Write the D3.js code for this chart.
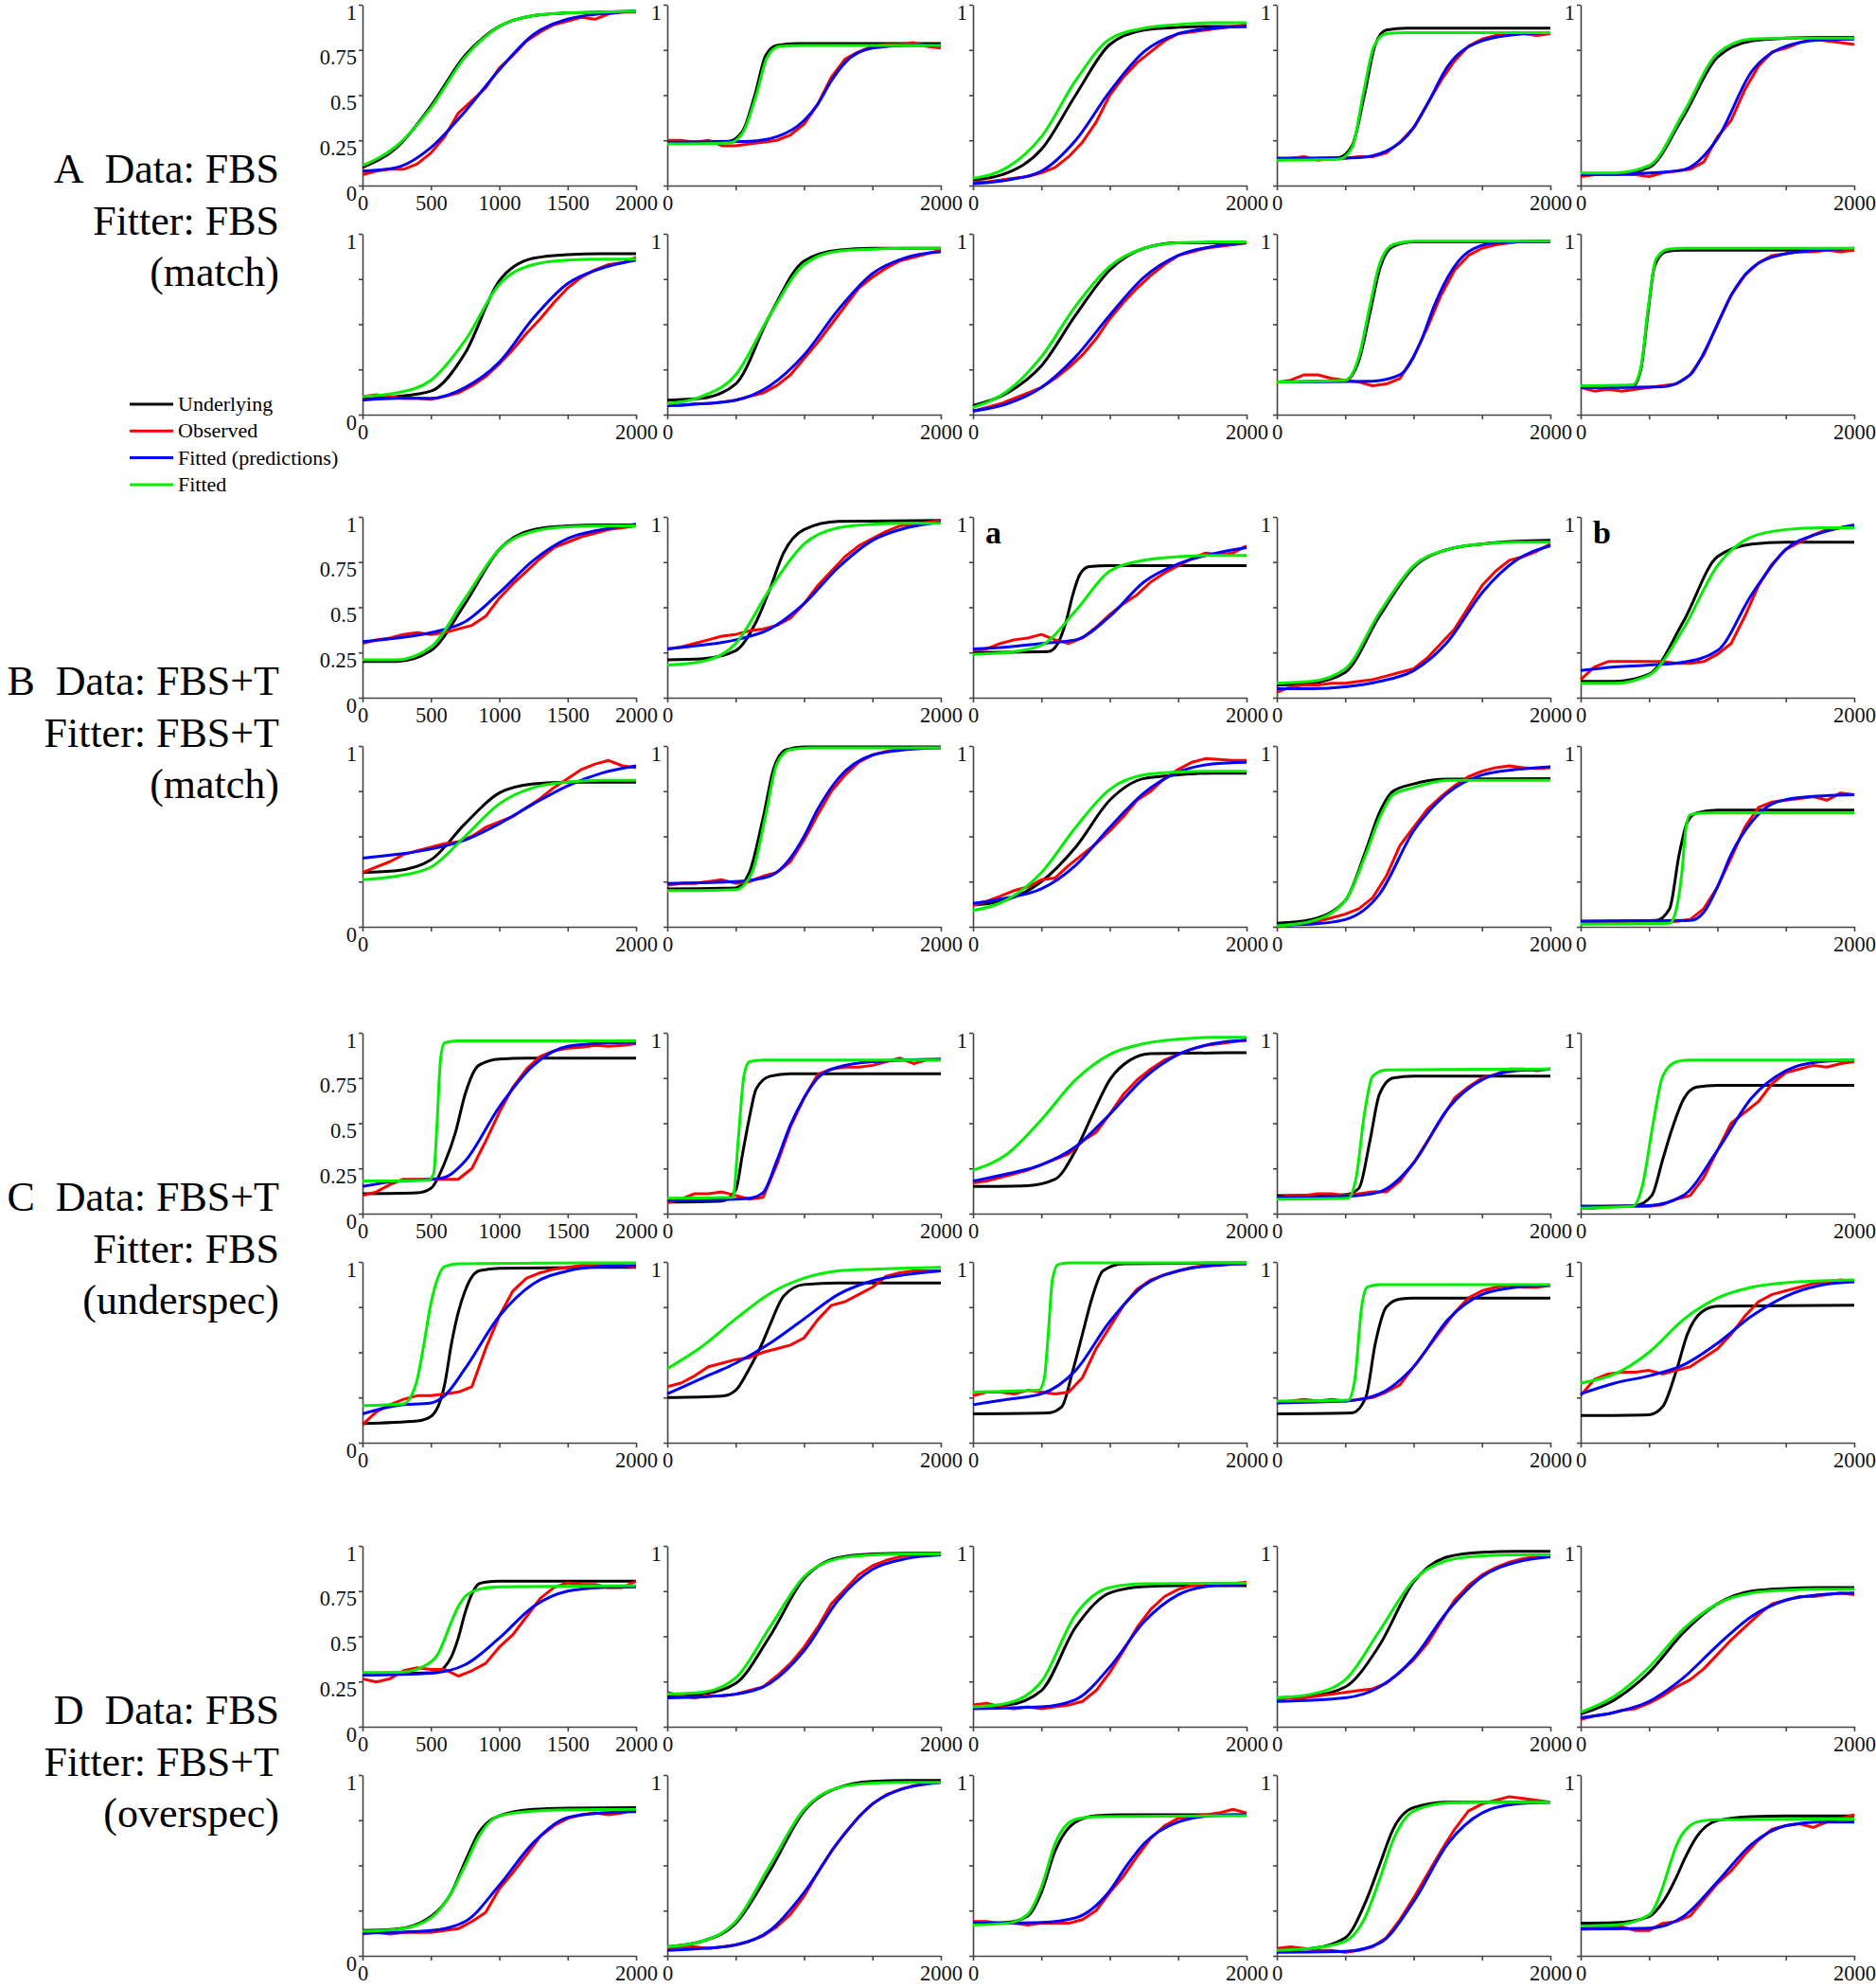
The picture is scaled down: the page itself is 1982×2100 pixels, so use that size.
<!DOCTYPE html>
<html><head><meta charset="utf-8">
<script src="https://cdn.jsdelivr.net/npm/d3@7"></script>
<style>body{margin:0;background:#fff}svg text{font-family:"Liberation Serif","Times New Roman",serif}</style>
</head><body><svg id="c" width="1982" height="2100"></svg>
<script>
// ---------- data ----------
const redX = [0,100,200,300,400,500,600,700,800,900,1000,1100,1200,1300,1400,1500,1600,1700,1800,1900,2000];
const xTicksFull = [0,500,1000,1500,2000];
const xTicksShort = [0,2000];
const yTicks = [0,0.25,0.5,0.75,1];
const yTickLabels = ["0","0.25","0.5","0.75","1"];
const seriesNames = ["Underlying","Observed","Fitted (predictions)","Fitted"];
const seriesColors = ["#000000","#ff0000","#0000ff","#00ee00"];
const groupLabels = [
  ["A\u00a0 Data: FBS","Fitter: FBS","(match)"],
  ["B\u00a0 Data: FBS+T","Fitter: FBS+T","(match)"],
  ["C\u00a0 Data: FBS+T","Fitter: FBS","(underspec)"],
  ["D\u00a0 Data: FBS","Fitter: FBS+T","(overspec)"]
];
const panelTags = [{row:2,col:2,text:"a"},{row:2,col:4,text:"b"}];

// Row A1
const black_A1 = [
 [[0,.10],[250,.21],[500,.44],[750,.72],[1000,.88],[1250,.94],[1500,.955],[1750,.96],[2000,.965]],
 [[0,.24],[450,.245],[550,.3],[640,.5],[720,.72],[800,.775],[950,.785],[2000,.785]],
 [[0,.03],[250,.07],[500,.2],[750,.5],[1000,.78],[1250,.86],[1500,.875],[1750,.88],[2000,.88]],
 [[0,.15],[450,.155],[550,.22],[640,.5],[720,.78],[800,.86],[950,.87],[2000,.87]],
 [[0,.06],[250,.06],[500,.1],[750,.38],[1000,.71],[1250,.8],[1500,.815],[1750,.82],[2000,.82]]];
const green_A1 = [
 [[0,.11],[250,.22],[500,.43],[750,.71],[1000,.88],[1250,.94],[1500,.955],[1750,.96],[2000,.965]],
 [[0,.23],[450,.235],[550,.29],[650,.5],[730,.71],[820,.77],[1000,.775],[2000,.775]],
 [[0,.04],[250,.1],[500,.27],[750,.58],[1000,.81],[1250,.87],[1500,.89],[1750,.9],[2000,.9]],
 [[0,.14],[450,.145],[550,.21],[630,.5],[710,.77],[800,.84],[950,.845],[2000,.845]],
 [[0,.07],[250,.07],[500,.11],[750,.4],[1000,.73],[1250,.81],[1500,.815],[1750,.815],[2000,.815]]];
const blue_A1 = [
 [[0,.08],[250,.1],[500,.21],[750,.41],[1000,.64],[1250,.835],[1500,.92],[1750,.95],[2000,.965]],
 [[0,.24],[600,.245],[800,.27],[1000,.36],[1100,.45],[1200,.58],[1300,.68],[1500,.76],[1750,.775],[2000,.775]],
 [[0,.01],[250,.03],[500,.08],[750,.25],[1000,.52],[1250,.74],[1500,.84],[1750,.87],[2000,.88]],
 [[0,.15],[600,.155],[800,.19],[1000,.32],[1100,.45],[1250,.66],[1500,.8],[1750,.835],[2000,.845]],
 [[0,.06],[500,.07],[750,.087],[1000,.26],[1250,.63],[1500,.77],[1750,.805],[2000,.81]]];
const red_A1 = [
 [.06,.08,.09,.09,.12,.18,.27,.40,.47,.54,.65,.72,.80,.85,.89,.91,.93,.92,.95,.96,.96],
 [.25,.25,.24,.25,.22,.22,.23,.24,.25,.28,.34,.45,.60,.70,.74,.77,.78,.78,.79,.77,.76],
 [.02,.02,.03,.04,.05,.07,.10,.16,.24,.35,.50,.60,.68,.74,.80,.84,.85,.86,.87,.88,.89],
 [.14,.15,.16,.14,.15,.15,.16,.16,.18,.24,.32,.45,.58,.69,.77,.81,.83,.84,.84,.83,.84],
 [.05,.06,.06,.06,.06,.05,.07,.08,.09,.13,.27,.36,.53,.66,.74,.76,.79,.81,.80,.79,.78]];

// Row A2
const black_A2 = [
 [[0,.09],[250,.1],[500,.13],[750,.34],[1000,.74],[1250,.865],[1500,.885],[1750,.89],[2000,.89]],
 [[0,.08],[250,.09],[500,.17],[750,.55],[1000,.85],[1250,.91],[1500,.92],[1750,.92],[2000,.92]],
 [[0,.05],[250,.12],[500,.27],[750,.55],[1000,.8],[1250,.92],[1500,.95],[1750,.95],[2000,.95]],
 [[0,.18],[500,.19],[600,.3],[680,.56],[750,.8],[850,.93],[1000,.955],[2000,.955]],
 [[0,.15],[380,.155],[440,.25],[490,.55],[540,.82],[620,.9],[720,.91],[2000,.91]]];
const green_A2 = [
 [[0,.1],[250,.12],[500,.19],[750,.41],[1000,.72],[1250,.83],[1500,.855],[1750,.86],[2000,.86]],
 [[0,.06],[250,.1],[500,.22],[750,.55],[1000,.83],[1250,.905],[1500,.915],[1750,.92],[2000,.92]],
 [[0,.04],[250,.13],[500,.32],[750,.6],[1000,.82],[1250,.92],[1500,.95],[1750,.955],[2000,.955]],
 [[0,.18],[500,.19],[600,.32],[680,.6],[750,.83],[850,.94],[1000,.96],[2000,.96]],
 [[0,.16],[380,.165],[440,.26],[495,.6],[550,.86],[640,.915],[770,.92],[2000,.92]]];
const blue_A2 = [
 [[0,.08],[250,.09],[500,.09],[750,.15],[1000,.29],[1250,.535],[1500,.725],[1750,.81],[2000,.855]],
 [[0,.05],[250,.06],[500,.08],[750,.16],[1000,.33],[1250,.58],[1500,.78],[1750,.87],[2000,.9]],
 [[0,.02],[250,.06],[500,.15],[750,.32],[1000,.55],[1250,.76],[1500,.88],[1750,.93],[2000,.95]],
 [[0,.18],[700,.185],[900,.22],[1050,.4],[1150,.6],[1250,.76],[1400,.9],[1600,.95],[2000,.96]],
 [[0,.15],[600,.155],[800,.22],[900,.34],[1000,.5],[1100,.66],[1250,.81],[1500,.89],[1750,.91],[2000,.92]]];
const red_A2 = [
 [.10,.11,.10,.09,.09,.085,.10,.12,.16,.21,.28,.36,.45,.53,.62,.70,.76,.80,.83,.84,.87],
 [.05,.05,.06,.06,.07,.08,.10,.12,.16,.22,.31,.40,.50,.60,.70,.76,.81,.85,.87,.89,.91],
 [.02,.04,.06,.09,.12,.15,.20,.26,.33,.42,.53,.62,.70,.77,.83,.88,.90,.92,.93,.94,.95],
 [.18,.19,.22,.22,.20,.19,.18,.16,.17,.20,.32,.48,.66,.80,.88,.92,.94,.95,.96,.96,.96],
 [.15,.13,.14,.13,.14,.15,.16,.17,.22,.33,.50,.66,.77,.84,.88,.89,.90,.90,.91,.90,.91]];

// Row B1
const black_B1 = [
 [[0,.2],[250,.2],[500,.26],[750,.52],[1000,.82],[1250,.93],[1500,.95],[1750,.955],[2000,.955]],
 [[0,.21],[250,.215],[500,.26],[650,.42],[750,.6],[850,.8],[1000,.93],[1250,.975],[2000,.98]],
 [[0,.25],[550,.255],[620,.3],[680,.42],[730,.57],[780,.68],[850,.725],[1000,.73],[2000,.73]],
 [[0,.07],[250,.08],[500,.14],[750,.45],[1000,.72],[1250,.82],[1500,.85],[1750,.865],[2000,.87]],
 [[0,.09],[250,.09],[500,.13],[750,.42],[1000,.78],[1250,.85],[1500,.86],[1750,.86],[2000,.86]]];
const green_B1 = [
 [[0,.21],[250,.21],[500,.28],[750,.55],[1000,.82],[1250,.92],[1500,.945],[1750,.95],[2000,.95]],
 [[0,.18],[250,.2],[500,.3],[750,.6],[1000,.85],[1250,.94],[1500,.96],[1750,.965],[2000,.965]],
 [[0,.24],[250,.25],[500,.29],[750,.48],[1000,.7],[1250,.76],[1500,.78],[1750,.787],[2000,.787]],
 [[0,.08],[250,.09],[500,.16],[750,.47],[1000,.73],[1250,.82],[1500,.85],[1750,.86],[2000,.86]],
 [[0,.08],[250,.08],[500,.125],[750,.38],[1000,.73],[1250,.89],[1500,.93],[1750,.94],[2000,.94]]];
const blue_B1 = [
 [[0,.31],[250,.33],[500,.36],[750,.42],[1000,.58],[1250,.76],[1500,.88],[1750,.93],[2000,.96]],
 [[0,.27],[250,.29],[500,.32],[750,.38],[1000,.52],[1250,.72],[1500,.87],[1750,.94],[2000,.97]],
 [[0,.27],[250,.28],[500,.3],[750,.32],[1000,.45],[1250,.64],[1500,.74],[1750,.795],[2000,.83]],
 [[0,.05],[250,.05],[500,.06],[750,.09],[1000,.15],[1250,.31],[1500,.58],[1750,.76],[2000,.84]],
 [[0,.15],[250,.17],[500,.18],[750,.196],[1000,.26],[1250,.57],[1500,.82],[1750,.91],[2000,.956]]];
const red_B1 = [
 [.30,.32,.33,.35,.36,.35,.36,.38,.40,.45,.55,.63,.70,.77,.83,.86,.89,.91,.93,.94,.95],
 [.27,.28,.30,.32,.34,.35,.37,.38,.40,.44,.52,.62,.70,.78,.84,.88,.92,.95,.96,.97,.98],
 [.26,.27,.30,.32,.33,.35,.32,.30,.33,.39,.46,.52,.57,.64,.69,.73,.77,.80,.79,.80,.84],
 [.03,.06,.07,.07,.08,.08,.09,.10,.12,.14,.16,.22,.30,.38,.50,.62,.70,.76,.78,.81,.85],
 [.10,.17,.20,.20,.20,.20,.20,.19,.19,.20,.24,.30,.45,.62,.74,.82,.86,.90,.93,.94,.95]];

// Row B2
const black_B2 = [
 [[0,.3],[250,.31],[500,.37],[750,.57],[1000,.74],[1250,.79],[1500,.8],[1750,.8],[2000,.8]],
 [[0,.21],[500,.215],[600,.3],[700,.6],[780,.88],[870,.98],[1000,.995],[2000,.995]],
 [[0,.12],[250,.15],[500,.25],[750,.44],[1000,.7],[1250,.82],[1500,.84],[1750,.85],[2000,.85]],
 [[0,.02],[250,.04],[500,.145],[650,.42],[750,.63],[850,.75],[1000,.79],[1250,.817],[2000,.82]],
 [[0,.03],[550,.035],[650,.1],[720,.4],[780,.58],[850,.63],[1000,.645],[2000,.645]]];
const green_B2 = [
 [[0,.26],[250,.28],[500,.33],[750,.5],[1000,.68],[1250,.77],[1500,.8],[1750,.81],[2000,.81]],
 [[0,.2],[500,.205],[620,.3],[720,.62],[800,.9],[900,.98],[1050,.99],[2000,.99]],
 [[0,.09],[250,.15],[500,.3],[750,.55],[1000,.76],[1250,.84],[1500,.856],[1750,.86],[2000,.86]],
 [[0,.005],[250,.03],[500,.145],[650,.4],[750,.6],[850,.73],[1000,.77],[1250,.81],[2000,.81]],
 [[0,.015],[650,.02],[700,.1],[740,.3],[770,.55],[800,.62],[900,.63],[2000,.63]]];
const blue_B2 = [
 [[0,.38],[250,.4],[500,.43],[750,.48],[1000,.57],[1250,.68],[1500,.78],[1750,.85],[2000,.89]],
 [[0,.24],[500,.25],[750,.28],[900,.38],[1000,.5],[1100,.65],[1250,.82],[1500,.95],[1750,.98],[2000,.99]],
 [[0,.13],[250,.16],[500,.21],[750,.34],[1000,.55],[1250,.74],[1500,.855],[1750,.9],[2000,.91]],
 [[0,.01],[250,.015],[500,.04],[750,.18],[1000,.53],[1250,.74],[1500,.84],[1750,.87],[2000,.885]],
 [[0,.03],[800,.035],[900,.08],[1000,.22],[1100,.4],[1250,.58],[1400,.68],[1600,.715],[2000,.73]]];
const red_B2 = [
 [.30,.33,.36,.40,.42,.44,.46,.47,.50,.55,.58,.61,.66,.71,.77,.82,.87,.90,.92,.89,.88],
 [.23,.24,.24,.25,.26,.24,.25,.28,.30,.36,.48,.62,.75,.84,.91,.95,.97,.98,.99,.99,.99],
 [.12,.14,.17,.20,.22,.26,.27,.34,.40,.46,.53,.61,.70,.75,.82,.87,.91,.93,.925,.92,.92],
 [.00,.01,.02,.03,.05,.07,.10,.16,.28,.45,.55,.65,.72,.78,.83,.86,.88,.89,.88,.875,.88],
 [.03,.03,.03,.03,.03,.03,.03,.03,.04,.10,.22,.38,.55,.66,.69,.70,.71,.72,.70,.74,.73]];

// Row C1
const black_C1 = [
 [[0,.11],[400,.115],[500,.14],[600,.28],[680,.45],[750,.66],[850,.82],[1000,.855],[1200,.86],[2000,.86]],
 [[0,.064],[400,.07],[500,.13],[550,.33],[600,.53],[650,.69],[750,.76],[900,.774],[2000,.774]],
 [[0,.15],[400,.155],[600,.19],[750,.35],[875,.55],[1000,.74],[1150,.85],[1300,.885],[2000,.89]],
 [[0,.1],[500,.105],[600,.14],[680,.4],[750,.66],[850,.75],[1000,.76],[2000,.76]],
 [[0,.04],[400,.045],[520,.1],[600,.3],[660,.45],[750,.63],[850,.7],[1000,.71],[2000,.71]]];
const green_C1 = [
 [[0,.18],[480,.185],[520,.22],[545,.5],[570,.85],[600,.945],[700,.955],[2000,.955]],
 [[0,.085],[480,.09],[520,.42],[560,.76],[600,.84],[700,.85],[2000,.85]],
 [[0,.24],[250,.33],[500,.52],[750,.74],[1000,.88],[1250,.94],[1500,.965],[1750,.975],[2000,.975]],
 [[0,.08],[520,.085],[580,.2],[640,.55],[700,.76],[800,.795],[2000,.8]],
 [[0,.03],[380,.04],[450,.15],[530,.5],[600,.76],[700,.84],[800,.85],[2000,.85]]];
const blue_C1 = [
 [[0,.15],[250,.18],[500,.19],[600,.2],[750,.29],[1000,.59],[1250,.82],[1500,.925],[1750,.943],[2000,.948]],
 [[0,.073],[500,.08],[600,.085],[700,.116],[800,.29],[900,.49],[1000,.64],[1100,.75],[1250,.81],[1500,.84],[2000,.855]],
 [[0,.18],[250,.22],[500,.27],[750,.37],[1000,.55],[1250,.75],[1500,.88],[1750,.94],[2000,.96]],
 [[0,.09],[500,.095],[750,.12],[1000,.28],[1250,.58],[1500,.74],[1750,.79],[2000,.8]],
 [[0,.04],[500,.045],[750,.1],[1000,.35],[1250,.64],[1500,.79],[1750,.84],[2000,.85]]];
const red_C1 = [
 [.10,.12,.16,.19,.19,.19,.19,.19,.25,.40,.56,.70,.80,.87,.90,.915,.92,.93,.925,.93,.94],
 [.06,.08,.11,.11,.12,.10,.08,.09,.27,.48,.64,.77,.80,.81,.81,.82,.84,.86,.83,.85,.85],
 [.17,.18,.20,.22,.24,.27,.30,.33,.40,.45,.55,.66,.74,.80,.85,.88,.91,.93,.94,.95,.96],
 [.09,.10,.10,.11,.11,.10,.11,.12,.12,.18,.28,.40,.52,.64,.70,.75,.77,.80,.80,.79,.80],
 [.03,.03,.04,.04,.04,.04,.05,.08,.10,.20,.35,.50,.56,.62,.72,.78,.80,.82,.81,.83,.84]];

// Row C2
const black_C2 = [
 [[0,.106],[400,.12],[500,.145],[600,.32],[650,.546],[700,.72],[750,.84],[850,.95],[1000,.965],[2000,.97]],
 [[0,.25],[400,.258],[500,.29],[600,.41],[700,.56],[750,.65],[850,.81],[1000,.875],[1250,.883],[2000,.883]],
 [[0,.16],[550,.165],[650,.2],[730,.4],[800,.6],[870,.8],[950,.95],[1100,.99],[2000,.995]],
 [[0,.16],[550,.165],[650,.25],[720,.55],[800,.75],[900,.795],[1000,.8],[2000,.8]],
 [[0,.15],[500,.155],[600,.2],[700,.4],[780,.6],[880,.72],[1000,.755],[2000,.76]]];
const green_C2 = [
 [[0,.206],[300,.215],[350,.25],[400,.35],[450,.55],[500,.77],[550,.91],[600,.975],[700,.99],[2000,.995]],
 [[0,.41],[250,.53],[500,.685],[750,.825],[1000,.91],[1250,.95],[1500,.96],[2000,.97]],
 [[0,.28],[480,.29],[520,.35],[550,.6],[580,.9],[620,.985],[700,.995],[2000,.995]],
 [[0,.23],[520,.235],[570,.35],[620,.75],[660,.86],[750,.875],[2000,.875]],
 [[0,.33],[250,.38],[500,.5],[750,.68],[1000,.8],[1250,.86],[1500,.885],[1750,.895],[2000,.9]]];
const blue_C2 = [
 [[0,.16],[250,.206],[500,.22],[600,.26],[750,.41],[1000,.7],[1250,.88],[1500,.95],[1750,.975],[2000,.98]],
 [[0,.27],[250,.355],[500,.44],[750,.55],[1000,.685],[1250,.82],[1500,.895],[1750,.93],[2000,.95]],
 [[0,.21],[250,.24],[500,.27],[750,.4],[1000,.67],[1250,.87],[1500,.95],[1750,.98],[2000,.99]],
 [[0,.22],[500,.23],[750,.27],[1000,.42],[1250,.68],[1500,.82],[1750,.86],[2000,.87]],
 [[0,.27],[250,.33],[500,.37],[750,.43],[1000,.55],[1250,.7],[1500,.81],[1750,.87],[2000,.89]]];
const red_C2 = [
 [.10,.17,.21,.24,.26,.26,.27,.28,.31,.52,.70,.84,.91,.94,.96,.97,.98,.98,.98,.98,.97],
 [.31,.33,.37,.42,.44,.46,.47,.50,.52,.54,.58,.68,.76,.78,.82,.86,.92,.94,.95,.95,.95],
 [.26,.28,.28,.27,.29,.28,.27,.28,.36,.52,.64,.76,.85,.90,.93,.95,.97,.98,.98,.99,.99],
 [.22,.23,.24,.23,.24,.23,.24,.25,.28,.32,.42,.52,.62,.72,.80,.84,.86,.87,.86,.86,.87],
 [.26,.35,.38,.39,.39,.40,.38,.40,.42,.47,.52,.60,.70,.78,.82,.84,.86,.88,.89,.90,.89]];

// Row D1
const black_D1 = [
 [[0,.29],[550,.3],[600,.33],[650,.387],[700,.49],[750,.63],[800,.735],[850,.79],[900,.8],[1000,.805],[2000,.805]],
 [[0,.17],[250,.18],[500,.24],[750,.5],[1000,.82],[1250,.935],[1500,.955],[1750,.96],[2000,.96]],
 [[0,.11],[250,.12],[500,.2],[750,.55],[1000,.74],[1250,.775],[1500,.78],[2000,.78]],
 [[0,.16],[250,.17],[500,.22],[750,.45],[1000,.8],[1250,.94],[1500,.965],[1750,.97],[2000,.97]],
 [[0,.07],[250,.15],[500,.3],[750,.52],[1000,.68],[1250,.75],[1500,.765],[1750,.77],[2000,.77]]];
const green_D1 = [
 [[0,.3],[300,.303],[450,.335],[550,.4],[650,.58],[700,.665],[750,.72],[850,.76],[1000,.774],[2000,.78]],
 [[0,.18],[250,.19],[500,.27],[750,.55],[1000,.83],[1250,.93],[1500,.95],[1750,.955],[2000,.955]],
 [[0,.11],[250,.13],[500,.25],[750,.62],[1000,.77],[1250,.79],[2000,.795]],
 [[0,.16],[250,.18],[500,.26],[750,.53],[1000,.81],[1250,.92],[1500,.945],[1750,.95],[2000,.95]],
 [[0,.08],[250,.17],[500,.33],[750,.54],[1000,.68],[1250,.74],[1500,.755],[1750,.76],[2000,.76]]];
const blue_D1 = [
 [[0,.285],[500,.296],[750,.343],[1000,.49],[1250,.665],[1500,.75],[1750,.77],[2000,.774]],
 [[0,.16],[250,.165],[500,.18],[750,.24],[1000,.42],[1250,.7],[1500,.87],[1750,.93],[2000,.95]],
 [[0,.1],[500,.11],[750,.15],[1000,.33],[1250,.58],[1500,.73],[1750,.78],[2000,.79]],
 [[0,.14],[500,.16],[750,.22],[1000,.38],[1250,.64],[1500,.83],[1750,.91],[2000,.94]],
 [[0,.05],[250,.08],[500,.14],[750,.27],[1000,.45],[1250,.61],[1500,.7],[1750,.73],[2000,.74]]];
const red_D1 = [
 [.265,.247,.265,.31,.326,.317,.317,.28,.31,.35,.44,.51,.61,.71,.77,.796,.787,.787,.77,.77,.805],
 [.19,.17,.16,.17,.17,.18,.20,.22,.28,.35,.44,.55,.68,.76,.84,.89,.92,.94,.95,.96,.96],
 [.12,.13,.11,.10,.11,.10,.11,.12,.14,.20,.30,.42,.55,.65,.72,.76,.78,.79,.79,.79,.80],
 [.15,.16,.16,.17,.18,.19,.20,.21,.24,.30,.37,.46,.58,.70,.78,.84,.88,.91,.93,.94,.94],
 [.04,.06,.07,.09,.10,.13,.17,.22,.26,.32,.40,.48,.55,.62,.68,.70,.72,.72,.73,.74,.73]];

// Row D2
const black_D2 = [
 [[0,.14],[250,.148],[500,.217],[650,.35],[750,.52],[850,.68],[1000,.774],[1250,.81],[1500,.817],[2000,.82]],
 [[0,.05],[250,.08],[500,.18],[750,.47],[1000,.8],[1250,.93],[1500,.965],[1750,.97],[2000,.97]],
 [[0,.18],[250,.185],[400,.22],[500,.35],[600,.58],[750,.74],[900,.775],[1100,.78],[2000,.78]],
 [[0,.03],[250,.04],[500,.1],[650,.3],[750,.5],[850,.7],[1000,.82],[1250,.85],[2000,.85]],
 [[0,.18],[250,.183],[500,.217],[600,.296],[700,.435],[750,.52],[850,.66],[1000,.748],[1250,.77],[1500,.774],[2000,.774]]];
const green_D2 = [
 [[0,.136],[250,.145],[500,.21],[650,.35],[750,.5],[850,.66],[1000,.774],[1250,.8],[1500,.807],[2000,.81]],
 [[0,.05],[250,.08],[500,.19],[750,.5],[1000,.81],[1250,.93],[1500,.955],[1750,.96],[2000,.96]],
 [[0,.17],[250,.18],[400,.23],[500,.38],[600,.62],[750,.755],[900,.77],[2000,.775]],
 [[0,.03],[250,.04],[500,.08],[650,.22],[750,.42],[850,.64],[1000,.8],[1250,.845],[1500,.85],[2000,.85]],
 [[0,.165],[250,.17],[500,.226],[600,.38],[650,.5],[700,.61],[800,.72],[900,.748],[1000,.753],[2000,.757]]];
const blue_D2 = [
 [[0,.125],[500,.14],[750,.19],[1000,.39],[1250,.626],[1500,.765],[1750,.79],[2000,.797]],
 [[0,.03],[250,.04],[500,.06],[750,.14],[1000,.35],[1250,.63],[1500,.84],[1750,.93],[2000,.96]],
 [[0,.18],[500,.185],[750,.21],[1000,.36],[1125,.5],[1250,.62],[1500,.74],[1750,.775],[2000,.78]],
 [[0,.02],[500,.025],[750,.07],[1000,.3],[1250,.62],[1500,.79],[1750,.84],[2000,.85]],
 [[0,.148],[500,.153],[750,.217],[1000,.41],[1250,.617],[1500,.72],[1750,.74],[2000,.74]]];
const red_D2 = [
 [.12,.13,.12,.13,.13,.13,.14,.15,.19,.24,.37,.46,.56,.66,.72,.76,.78,.79,.78,.79,.81],
 [.04,.05,.05,.04,.05,.06,.08,.11,.16,.23,.33,.46,.58,.68,.77,.84,.89,.92,.94,.95,.96],
 [.19,.19,.18,.18,.17,.18,.18,.18,.20,.25,.35,.44,.55,.65,.72,.76,.77,.78,.79,.81,.79],
 [.04,.05,.04,.03,.03,.02,.03,.05,.10,.20,.32,.45,.58,.70,.80,.84,.86,.88,.87,.86,.85],
 [.15,.16,.165,.16,.14,.14,.18,.19,.22,.31,.40,.47,.56,.64,.70,.72,.73,.71,.74,.76,.78]];

const rows = [
 {black:black_A1, red:red_A1, blue:blue_A1, green:green_A1},
 {black:black_A2, red:red_A2, blue:blue_A2, green:green_A2},
 {black:black_B1, red:red_B1, blue:blue_B1, green:green_B1},
 {black:black_B2, red:red_B2, blue:blue_B2, green:green_B2},
 {black:black_C1, red:red_C1, blue:blue_C1, green:green_C1},
 {black:black_C2, red:red_C2, blue:blue_C2, green:green_C2},
 {black:black_D1, red:red_D1, blue:blue_D1, green:green_D1},
 {black:black_D2, red:red_D2, blue:blue_D2, green:green_D2}
];

// ---------- layout ----------
const groupTop = [5, 546, 1091, 1633];
const rowGap = 242;
const colLeft = [383, 705, 1028, 1349, 1670];
const W = 289, H = 191;
const axisColor = "#444";
const tickFont = 22.5;

const svg = d3.select("#c");
const x = d3.scaleLinear().domain([0,2000]).range([0,W]);
const y = d3.scaleLinear().domain([0,1]).range([H,0]);
const smooth = d3.line().x(d=>x(d[0])).y(d=>y(d[1])).curve(d3.curveMonotoneX);
const noisy = d3.line().x((d,i)=>x(redX[i])).y(d=>y(d));

rows.forEach((row, r) => {
  const gi = Math.floor(r/2), sub = r % 2;
  const top = groupTop[gi] + sub*rowGap;
  colLeft.forEach((left, c) => {
    const g = svg.append("g").attr("transform", `translate(${left},${top})`);
    const full = (sub === 0 && c === 0);
    const ya = d3.axisLeft(y).tickValues(yTicks).tickSize(4).tickSizeOuter(0)
      .tickFormat((d,i) => {
        if (c === 0 && sub === 0) return yTickLabels[i];
        if (c === 0) return (d === 0 || d === 1) ? yTickLabels[i] : "";
        return d === 1 ? "1" : "";
      });
    const yg = g.append("g").call(ya);
    const xa = d3.axisBottom(x).tickValues(xTicksFull).tickSize(5).tickSizeOuter(0)
      .tickFormat(d => (full || xTicksShort.includes(d)) ? String(d) : "");
    const xg = g.append("g").attr("transform", `translate(0,${H})`).call(xa);
    [yg, xg].forEach(a => {
      a.attr("font-family", null).attr("font-size", null);
      a.selectAll("path,line").attr("stroke", axisColor).attr("stroke-width", 1.6);
      a.selectAll("text").attr("fill", "#111").style("font-size", tickFont + "px")
        .style("font-family", '"Liberation Serif","Times New Roman",serif');
    });
    yg.selectAll("text").attr("x", -6).attr("dy", "0.32em").attr("y", 8);
    xg.selectAll("text").attr("y", 10);
    g.append("path").attr("d", smooth(row.black[c])).attr("fill","none")
      .attr("stroke", seriesColors[0]).attr("stroke-width", 3);
    g.append("path").attr("d", noisy(row.red[c])).attr("fill","none")
      .attr("stroke", seriesColors[1]).attr("stroke-width", 3).attr("stroke-linejoin","round");
    g.append("path").attr("d", smooth(row.blue[c])).attr("fill","none")
      .attr("stroke", seriesColors[2]).attr("stroke-width", 3);
    g.append("path").attr("d", smooth(row.green[c])).attr("fill","none")
      .attr("stroke", seriesColors[3]).attr("stroke-width", 3);
  });
});

panelTags.forEach(t => {
  const gi = Math.floor(t.row/2), sub = t.row % 2;
  svg.append("text").attr("x", colLeft[t.col] + 13).attr("y", groupTop[gi] + sub*rowGap + 28)
    .style("font-size","34px").style("font-weight","bold").text(t.text);
});

groupLabels.forEach((lines, gi) => {
  lines.forEach((s, li) => {
    svg.append("text").attr("x", 295).attr("y", groupTop[gi] + 188 + li*54.5)
      .attr("text-anchor","end").style("font-size","44px").text(s);
  });
});

seriesNames.forEach((name, i) => {
  const ly = 427 + i*28.3;
  svg.append("line").attr("x1",137).attr("x2",183).attr("y1",ly).attr("y2",ly)
    .attr("stroke", seriesColors[i]).attr("stroke-width", 3);
  svg.append("text").attr("x",188).attr("y",ly+7).style("font-size","22px").text(name);
});
</script></body></html>
